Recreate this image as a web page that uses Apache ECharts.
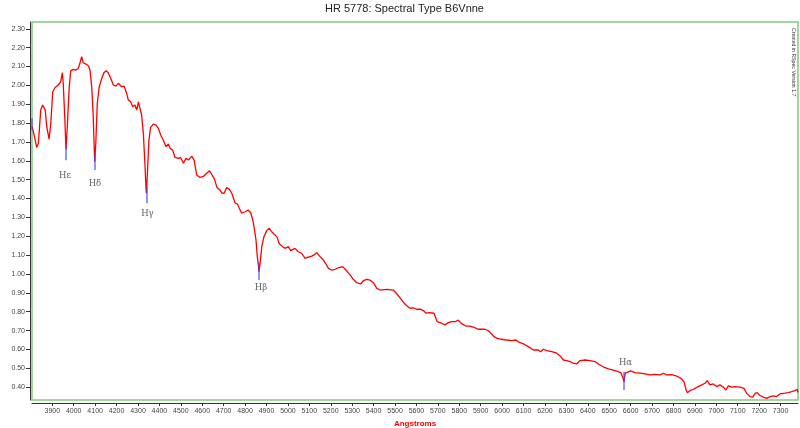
<!DOCTYPE html>
<html>
<head>
<meta charset="utf-8">
<script src="https://cdn.jsdelivr.net/npm/echarts@6/dist/echarts.min.js"></script>
<style>
html,body{margin:0;padding:0;background:#fff;}
#chart{width:800px;height:428px;}
</style>
</head>
<body>
<div id="chart"></div>
<script>
// Wavelength (Angstroms)
const wavelengths = [3806,3815,3827,3835,3846,3855,3861,3867,3874,3885,3893,3902,3913,3928,3939,3947,3951,3958,3964,3970,3979,3986,3998,4011,4021,4029,4037,4045,4057,4068,4076,4084,4091,4096,4098,4103,4110,4119,4131,4141,4151,4161,4173,4185,4197,4208,4216,4224,4235,4247,4255,4266,4275,4286,4294,4302,4309,4317,4325,4333,4337,4339,4344,4351,4359,4372,4384,4395,4406,4418,4431,4442,4450,4462,4473,4488,4499,4512,4524,4535,4551,4562,4574,4590,4605,4621,4634,4646,4657,4669,4683,4692,4702,4714,4726,4738,4753,4764,4773,4784,4800,4815,4826,4836,4843,4851,4857,4864,4865,4870,4878,4888,4901,4913,4924,4935,4948,4960,4976,4986,5002,5013,5033,5049,5064,5080,5095,5111,5122,5134,5150,5165,5178,5189,5204,5220,5235,5256,5274,5290,5305,5321,5340,5352,5368,5383,5399,5415,5430,5461,5492,5509,5528,5542,5556,5570,5585,5601,5620,5632,5645,5660,5682,5697,5718,5733,5749,5765,5780,5795,5811,5831,5850,5869,5889,5905,5920,5936,5951,5962,5978,5998,6021,6045,6065,6076,6099,6122,6146,6169,6180,6192,6208,6232,6255,6274,6286,6302,6317,6332,6348,6364,6387,6410,6434,6449,6472,6496,6504,6527,6542,6554,6563,6569,6575,6584,6600,6620,6644,6667,6690,6714,6737,6753,6768,6792,6815,6834,6849,6859,6865,6877,6893,6911,6932,6947,6958,6970,6986,7002,7017,7033,7045,7056,7072,7087,7111,7129,7142,7157,7170,7181,7191,7204,7219,7235,7251,7266,7282,7297,7321,7336,7352,7367,7378,7381];
// Relative flux
const flux = [1.781,1.737,1.671,1.693,1.869,1.896,1.901,1.869,1.781,1.715,1.799,1.966,1.989,2.002,2.019,2.067,2.011,1.834,1.660,1.781,1.993,2.077,2.085,2.081,2.090,2.117,2.152,2.120,2.113,2.104,2.081,1.993,1.834,1.657,1.595,1.693,1.905,1.993,2.037,2.067,2.077,2.067,2.037,2.002,1.996,2.011,2.016,1.993,1.996,1.958,1.922,1.913,1.887,1.896,1.869,1.913,1.905,1.843,1.746,1.569,1.463,1.428,1.534,1.710,1.777,1.795,1.790,1.772,1.737,1.710,1.675,1.689,1.666,1.657,1.618,1.613,1.618,1.587,1.613,1.604,1.625,1.604,1.525,1.512,1.517,1.534,1.547,1.525,1.503,1.458,1.445,1.429,1.428,1.458,1.450,1.428,1.378,1.371,1.348,1.322,1.330,1.339,1.325,1.286,1.242,1.180,1.092,1.030,1.012,1.057,1.145,1.198,1.230,1.242,1.224,1.212,1.198,1.159,1.145,1.136,1.145,1.124,1.136,1.118,1.110,1.083,1.089,1.095,1.101,1.113,1.092,1.074,1.053,1.030,1.021,1.025,1.033,1.039,1.017,0.995,0.972,0.954,0.947,0.965,0.972,0.968,0.954,0.924,0.915,0.919,0.915,0.894,0.867,0.846,0.830,0.818,0.821,0.813,0.813,0.806,0.792,0.795,0.792,0.747,0.739,0.730,0.742,0.747,0.747,0.755,0.737,0.724,0.724,0.717,0.707,0.707,0.707,0.699,0.682,0.668,0.659,0.654,0.650,0.647,0.650,0.640,0.630,0.615,0.597,0.597,0.588,0.601,0.594,0.588,0.580,0.562,0.544,0.541,0.535,0.527,0.523,0.541,0.544,0.541,0.536,0.523,0.508,0.497,0.495,0.488,0.482,0.477,0.453,0.429,0.474,0.482,0.486,0.477,0.474,0.470,0.465,0.468,0.465,0.474,0.465,0.466,0.459,0.447,0.429,0.385,0.371,0.382,0.389,0.400,0.412,0.421,0.435,0.412,0.417,0.403,0.412,0.400,0.385,0.407,0.400,0.403,0.400,0.394,0.367,0.350,0.347,0.367,0.371,0.356,0.347,0.341,0.350,0.354,0.350,0.364,0.368,0.371,0.376,0.382,0.389,0.371];

// Axis ticks
const xTicks = [3900,4000,4100,4200,4300,4400,4500,4600,4700,4800,4900,5000,5100,5200,5300,5400,5500,5600,5700,5800,5900,6000,6100,6200,6300,6400,6500,6600,6700,6800,6900,7000,7100,7200,7300];
const yTicks = [0.40,0.50,0.60,0.70,0.80,0.90,1.00,1.10,1.20,1.30,1.40,1.50,1.60,1.70,1.80,1.90,2.00,2.10,2.20,2.30];

// Spectral line markers (wavelength, top and bottom flux of the marker)
const markerWl = [3806,3964,4097,4339,4864,6569];
const markerTop = [1.825,1.683,1.641,1.463,1.060,0.482];
const markerBottom = [1.762,1.603,1.552,1.375,0.968,0.385];

// Line labels
const lineNames = ['Hε','Hδ','Hγ','Hβ','Hα'];
const labelWl = [3959,4099,4344,4874,6576];
const labelFlux = [1.519,1.477,1.318,0.926,0.528];

const chart = echarts.init(document.getElementById('chart'), null, {renderer:'canvas'});
const FONT = 'Liberation Sans';
const option = {
  animation: false,
  backgroundColor: '#ffffff',
  title: {
    text: 'HR 5778: Spectral Type B6Vnne',
    left: 325, top: 3, padding: 0,
    textStyle: {fontFamily: FONT, fontSize: 11, fontWeight: 'normal', color: '#222'}
  },
  grid: {left: 32, right: 2, top: 22, bottom: 28, show: true, borderColor: '#80cc80', borderWidth: 1.5,
    containLabel: false, outerBoundsMode: 'none'},
  xAxis: {
    type: 'value', min: 3805.2, max: 7381.3, offset: 3,
    name: 'Angstroms', nameLocation: 'middle', nameGap: 14,
    nameTextStyle: {color: '#ff0000', fontWeight: 'bold', fontSize: 8, fontFamily: FONT},
    axisLine: {show: true, lineStyle: {color: '#333', width: 1}},
    axisTick: {show: true, customValues: xTicks, length: 3, lineStyle: {color: '#333'}},
    axisLabel: {customValues: xTicks, fontSize: 7, color: '#444', margin: 5, fontFamily: FONT,
      formatter: v => String(Math.round(v))},
    splitLine: {show: false}
  },
  yAxis: {
    type: 'value', min: 0.332, max: 2.336, offset: 2,
    axisLine: {show: true, lineStyle: {color: '#333', width: 1}},
    axisTick: {show: true, customValues: yTicks, length: 4, lineStyle: {color: '#333'}},
    axisLabel: {customValues: yTicks, fontSize: 7, color: '#444', margin: 5, fontFamily: FONT,
      formatter: v => Number(v).toFixed(2)},
    splitLine: {show: false}
  },
  series: [
    {
      type: 'line',
      data: wavelengths.map((w, i) => [w, flux[i]]),
      showSymbol: false,
      lineStyle: {color: '#ff0000', width: 1.3},
      z: 2
    },
    {
      type: 'lines',
      coordinateSystem: 'cartesian2d',
      polyline: false,
      data: markerWl.map((w, i) => ({coords: [[w, markerTop[i]], [w, markerBottom[i]]]})),
      lineStyle: {color: '#4040ff', width: 1.5, opacity: 0.75},
      z: 3
    },
    {
      type: 'scatter',
      symbolSize: 0,
      data: lineNames.map((n, i) => ({name: n, value: [labelWl[i], labelFlux[i]]})),
      label: {show: true, position: 'inside', formatter: p => p.name,
        fontFamily: 'DejaVu Serif', fontSize: 8.5, color: '#333'},
      z: 4
    }
  ],
  graphic: [
    {
      type: 'text', x: 793, y: 28, rotation: -Math.PI / 2,
      style: {text: 'Created in RSpec Version 1.7', fontSize: 5.2, fontFamily: FONT, fill: '#333',
        textAlign: 'left', textVerticalAlign: 'middle'}
    }
  ]
};
chart.setOption(option);
</script>
</body>
</html>
